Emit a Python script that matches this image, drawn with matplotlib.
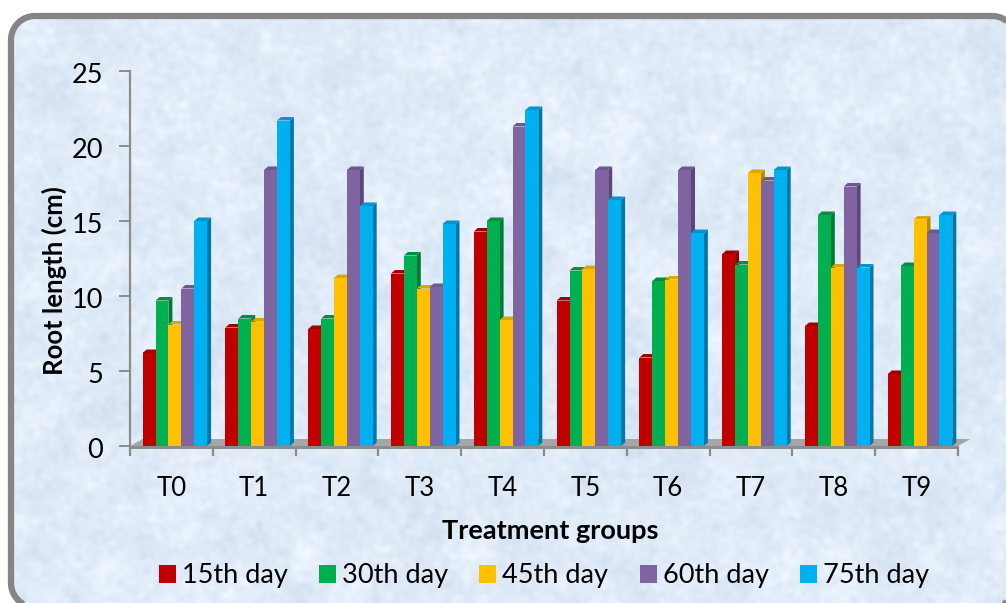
import numpy as np
import matplotlib
matplotlib.use('Agg')
import matplotlib.pyplot as plt
from matplotlib.patches import Polygon, Patch
from matplotlib.transforms import ScaledTranslation

groups = ['T0', 'T1', 'T2', 'T3', 'T4', 'T5', 'T6', 'T7', 'T8', 'T9']
day15 = [6.2, 7.9, 7.8, 11.5, 14.3, 9.7, 5.9, 12.8, 8.0, 4.8]
day30 = [9.7, 8.5, 8.5, 12.7, 15.0, 11.7, 11.0, 12.1, 15.4, 12.0]
day45 = [8.1, 8.3, 11.2, 10.5, 8.4, 11.8, 11.1, 18.2, 11.9, 15.1]
day60 = [10.5, 18.4, 18.4, 10.6, 21.3, 18.4, 18.4, 17.7, 17.3, 14.2]
day75 = [15.0, 21.7, 16.0, 14.8, 22.4, 16.4, 14.2, 18.4, 11.9, 15.4]
series = [day15, day30, day45, day60, day75]
names = ['15th day', '30th day', '45th day', '60th day', '75th day']
yticks = [0, 5, 10, 15, 20, 25]

front = ['#c00000', '#00b050', '#ffc000', '#8064a2', '#00b0f0']
side = ['#8c0000', '#007a38', '#b88a00', '#5c4876', '#0079a8']
top = ['#a00000', '#009044', '#dda600', '#6f5790', '#0095cc']

plt.rcParams['font.family'] = ['Lato', 'DejaVu Sans']

W, H = 1006, 603
fig = plt.figure(figsize=(W / 100, H / 100), dpi=100, facecolor='white')

# page background: frame + mottled paper texture
bg = fig.add_axes([0, 0, 1, 1])
bg.axis('off')


def blur_noise(seed, sigma):
    noise = np.random.default_rng(seed).normal(size=(H, W))
    fy = np.fft.fftfreq(H)[:, None]
    fx = np.fft.fftfreq(W)[None, :]
    lowpass = np.exp(-2 * np.pi**2 * sigma**2 * (fx**2 + fy**2))
    out = np.fft.ifft2(np.fft.fft2(noise) * lowpass).real
    return out / out.std()


def rounded_rect(x1, y1, x2, y2, r):
    # plain polyline, curves running off the canvas get mangled by the clipper
    pts = []
    corners = [(x2 - r, y1 + r, -90), (x2 - r, y2 - r, 0), (x1 + r, y2 - r, 90), (x1 + r, y1 + r, 180)]
    for cx, cy, start in corners:
        t = np.radians(np.linspace(start, start + 90, 20))
        pts += list(zip(cx + r * np.cos(t), cy + r * np.sin(t)))
    return pts


tex = 0.7 * blur_noise(3, 2.5) + 0.7 * blur_noise(4, 12)
base = np.array([224, 235, 248]) / 255
img = np.clip(base[None, None, :] + tex[:, :, None] * np.array([0.018, 0.014, 0.009]), 0, 1)
im = bg.imshow(img, extent=(0, W, H, 0), aspect='auto', zorder=1)
outline = rounded_rect(11, 16, 1016, 607, 24)
clip = Polygon(outline, closed=True, transform=bg.transData, fc='none', ec='none')
bg.add_patch(clip)
im.set_clip_path(clip)
bg.add_patch(Polygon(outline, closed=True, fc='none', ec='#858585', lw=4.5, zorder=3))
bg.set_xlim(0, W)
bg.set_ylim(H, 0)

# plot area in pixels: x 130-958, y 71-446
ax = fig.add_axes([130 / W, 1 - 446 / H, 828 / W, 375 / H])
ax.patch.set_alpha(0)
ax.set_xlim(0, len(groups))
ax.set_ylim(0, 25)
for s in ['top', 'right', 'bottom']:
    ax.spines[s].set_visible(False)
ax.spines['left'].set_color('#8c8c8c')
ax.spines['left'].set_linewidth(1.6)

px_x = len(groups) / 828
px_y = 25 / 375
dx, dy = 4 * px_x, 3.5 * px_y
barw = 12.9 * px_x
x0 = 12.6 * px_x

# floor of the 3d chart
fl_dx, fl_dy = 12.5 * px_x, 7 * px_y
ax.add_patch(Polygon([(0, 0), (fl_dx, fl_dy), (10 + fl_dx, fl_dy), (10, 0)],
                     fc='#a6a6a6', ec='none', zorder=1, clip_on=False))
ax.add_patch(Polygon([(0, 0), (10, 0), (10, -3 * px_y), (0, -3 * px_y)],
                     fc='#8c8c8c', ec='none', zorder=1, clip_on=False))

for g in range(len(groups)):
    for i, vals in enumerate(series):
        v = vals[g]
        left = g + x0 + i * barw
        z = 2 + i * 0.1
        ax.add_patch(Polygon([(left + barw, 0), (left + barw + dx, dy),
                              (left + barw + dx, v + dy), (left + barw, v)],
                             fc=side[i], ec='none', zorder=z, clip_on=False))
        ax.add_patch(Polygon([(left, v), (left + dx, v + dy),
                              (left + barw + dx, v + dy), (left + barw, v)],
                             fc=top[i], ec='none', zorder=z, clip_on=False))
        ax.bar(left, v, width=barw, align='edge', color=front[i], zorder=z + 0.01, clip_on=False)

ax.set_yticks(yticks)
ax.set_xticks(np.arange(len(groups) + 1))
ax.set_xticklabels([])
ax.set_xticks(np.arange(len(groups)) + 0.5, minor=True)
ax.set_xticklabels(groups, minor=True, fontsize=18.5)
ax.tick_params(axis='x', which='major', length=7, width=1.6, color='#8c8c8c', direction='out', pad=0)
ax.tick_params(axis='x', which='minor', length=0, pad=21.5)
ax.tick_params(axis='y', length=8, width=1.4, color='#8c8c8c', labelsize=19.5, pad=11.5)
for lab in ax.get_yticklabels():
    lab.set_transform(lab.get_transform() + ScaledTranslation(0, -2 / 100, fig.dpi_scale_trans))

fig.text(550 / W, 1 - 531 / H, 'Treatment groups', fontsize=19.5, fontweight='bold', ha='center', va='center')
fig.text(54 / W, 1 - 281 / H, 'Root length (cm)', fontsize=18.5, fontweight='bold',
         rotation=90, ha='center', va='center')

handles = [Patch(fc=c, ec='none') for c in front]
fig.legend(handles, names, ncol=5, loc='center', bbox_to_anchor=(544 / W, 1 - 576 / H),
           frameon=False, fontsize=19.5, handlelength=0.63, handleheight=0.63,
           handletextpad=0.22, columnspacing=1.15, borderpad=0, borderaxespad=0)

fig.savefig('out.png', dpi=100)
